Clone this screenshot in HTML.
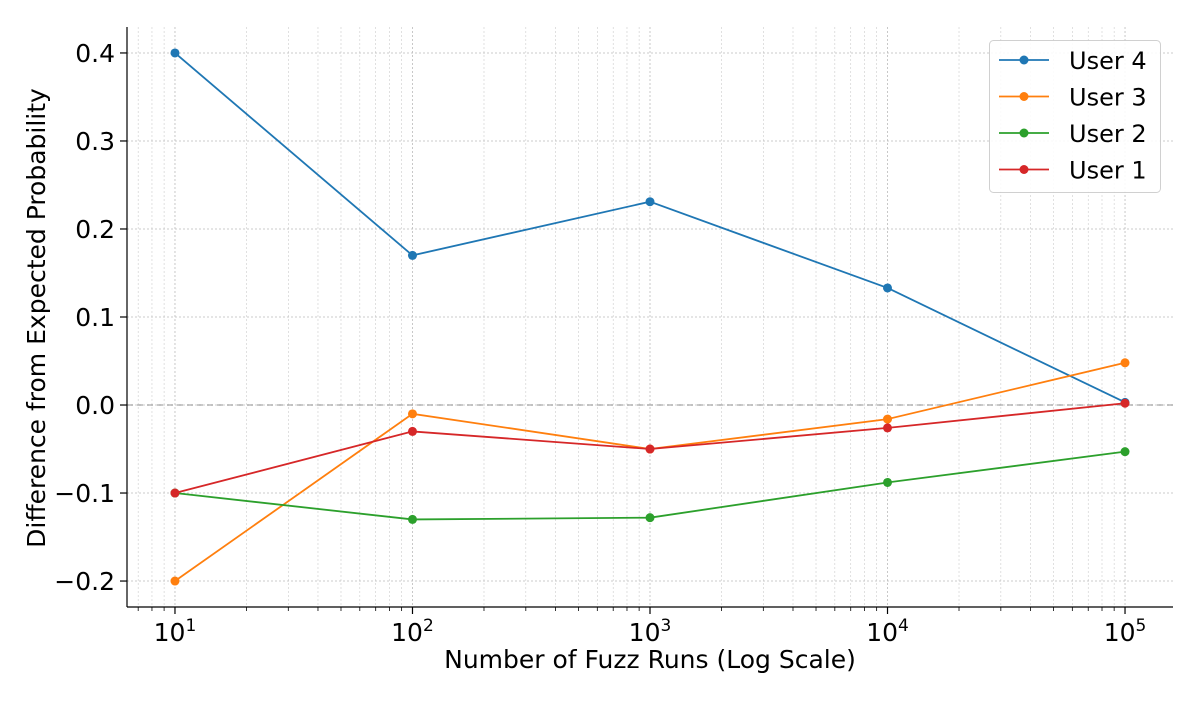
<!DOCTYPE html>
<html><head><meta charset="utf-8"><style>
body{margin:0;background:#fff;}
svg text{font-family:"DejaVu Sans","Liberation Sans",sans-serif;}
</style></head><body>
<svg id="chart" width="1200" height="700" xmlns="http://www.w3.org/2000/svg">
<g id="grid"></g>
<g id="axes"></g>
<g id="series"></g>
<text x="650" y="668" font-size="25" text-anchor="middle" fill="#000">Number of Fuzz Runs (Log Scale)</text>
<text transform="translate(45,318) rotate(-90)" font-size="25" text-anchor="middle" fill="#000">Difference from Expected Probability</text>
<g id="legend"></g>
</svg>
<script>
const xValues = [10, 100, 1000, 10000, 100000];
const seriesNames = ["User 4", "User 3", "User 2", "User 1"];
const user4 = [0.4, 0.17, 0.231, 0.133, 0.003];
const user3 = [-0.2, -0.01, -0.05, -0.016, 0.048];
const user2 = [-0.1, -0.13, -0.128, -0.088, -0.053];
const user1 = [-0.1, -0.03, -0.05, -0.026, 0.002];
const yTicks = [-0.2, -0.1, 0.0, 0.1, 0.2, 0.3, 0.4];
const yTickLabels = ["\u22120.2", "\u22120.1", "0.0", "0.1", "0.2", "0.3", "0.4"];
const xTickExps = [1, 2, 3, 4, 5];
const colors = ["#1f77b4", "#ff7f0e", "#2ca02c", "#d62728"];
const allSeries = [user4, user3, user2, user1];

const L=127,R=1173,T=27,B=607;
const xMin=0.798,xMax=5.202,yMin=-0.2295,yMax=0.4295;
const xs=v=>L+(Math.log10(v)-xMin)/(xMax-xMin)*(R-L);
const ys=v=>B-(v-yMin)/(yMax-yMin)*(B-T);
const NS="http://www.w3.org/2000/svg";
function mk(tag,attrs,parent){const e=document.createElementNS(NS,tag);for(const k in attrs)e.setAttribute(k,attrs[k]);parent.appendChild(e);return e;}
const grid=document.getElementById('grid'),axes=document.getElementById('axes'),ser=document.getElementById('series'),leg=document.getElementById('legend');

for(let d=0;d<=5;d++){for(let m=1;m<10;m++){const v=m*Math.pow(10,d);const lg=Math.log10(v);if(lg<xMin||lg>xMax)continue;const x=xs(v);
const g=mk('line',{x1:x,x2:x,y1:T,y2:B,stroke:m===1?'#bbb':'#ccc','stroke-width':m===1?0.8:0.6,'stroke-dasharray':'2,2'},grid);

const t=mk('line',{x1:x,x2:x,y1:B,y2:B+(m===1?7:4),stroke:'#000','stroke-width':m===1?1.2:0.8},axes);
}}
xTickExps.forEach(e=>{const x=xs(Math.pow(10,e));
const t=mk('text',{x:x,y:641,'font-size':25,'text-anchor':'middle',fill:'#000'},axes);

t.innerHTML='10<tspan dy="-10" font-size="17">'+e+'</tspan>';});
yTicks.forEach((v,i)=>{const y=ys(v);
const g=mk('line',{x1:L,x2:R,y1:y,y2:y,stroke:'#bbb','stroke-width':0.8,'stroke-dasharray':'2,2'},grid);

const t=mk('line',{x1:L-7,x2:L,y1:y,y2:y,stroke:'#000','stroke-width':1.2},axes);

const tl=mk('text',{x:L-12,y:y+9,'font-size':25,'text-anchor':'end',fill:'#000'},axes);
tl.textContent=yTickLabels[i];});
const z=mk('line',{x1:L,x2:R,y1:ys(0),y2:ys(0),stroke:'#999','stroke-width':1.5,'stroke-dasharray':'6,4',opacity:0.7},grid);

const sl=mk('line',{x1:L,x2:L,y1:T,y2:B,stroke:'#000','stroke-width':1.2},axes);

const sb=mk('line',{x1:L,x2:R,y1:B,y2:B,stroke:'#000','stroke-width':1.2},axes);


allSeries.forEach((vals,si)=>{const g=mk('g',{},ser);

const pts=vals.map((v,i)=>xs(xValues[i])+','+ys(v)).join(' ');
const pl=mk('polyline',{points:pts,fill:'none',stroke:colors[si],'stroke-width':1.8},g);

vals.forEach((v,i)=>{const c=mk('circle',{cx:xs(xValues[i]),cy:ys(v),r:4.5,fill:colors[si]},g);
});});

const box=mk('rect',{x:989.5,y:40.5,width:171,height:152,rx:4,fill:'#fff',stroke:'#ccc','stroke-width':1,opacity:0.9},leg);

seriesNames.forEach((n,i)=>{const y=60+i*36.5;const g=mk('g',{},leg);

mk('line',{x1:999,x2:1049,y1:y,y2:y,stroke:colors[i],'stroke-width':1.8},g);
mk('circle',{cx:1024,cy:y,r:4.5,fill:colors[i]},g);
const t=mk('text',{x:1069,y:y+9,'font-size':24,fill:'#000'},g);t.textContent=n;});
</script>
</body></html>
